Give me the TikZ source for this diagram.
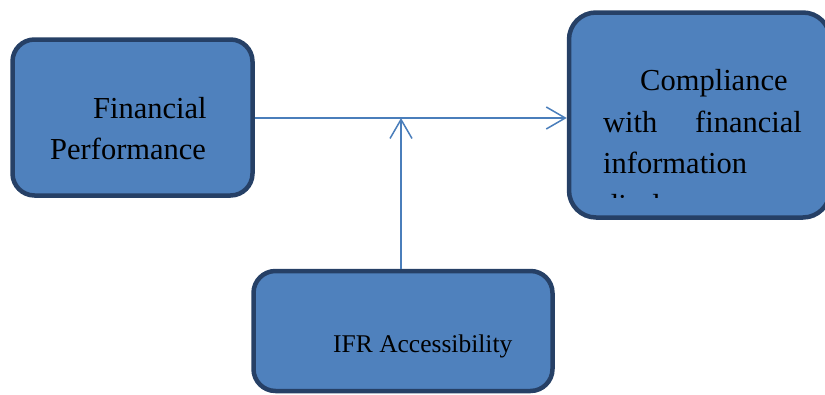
\documentclass[tikz,border=0pt]{standalone}
\usepackage{fontspec}
\setmainfont{Liberation Serif}
\usetikzlibrary{arrows.meta}
\definecolor{boxfill}{RGB}{79,129,189}
\definecolor{boxedge}{RGB}{38,64,102}
\definecolor{linkcol}{RGB}{74,126,187}
\tikzset{
  box/.style={draw=boxedge, fill=boxfill, line width=4.5pt, rounded corners=22pt, inner sep=0pt},
  link/.style={draw=linkcol, line width=1.5pt, -{Straight Barb[length=19pt,width=22pt,line width=1.5pt]}},
  bigtext/.style={anchor=base west, inner sep=0pt, font=\fontsize{30.5}{36}\selectfont},
  smalltext/.style={anchor=base west, inner sep=0pt, font=\fontsize{25.5}{30}\selectfont}
}
\begin{document}
\begin{tikzpicture}[x=1pt,y=-1pt]
\useasboundingbox (0,0) rectangle (825,394);
% boxes
\node[box, minimum width=240pt, minimum height=156pt] (perf) at (132.5,117.5) {};
\node[box, minimum width=261pt, minimum height=205pt, rounded corners=27pt] (comp) at (699.5,115) {};
\node[box, minimum width=299pt, minimum height=120pt] (ifr) at (403,331) {};
% box texts
\node[bigtext] (t1) at (93,118) {Financial};
\node[bigtext] (t2) at (50,159) {Performance};
\node[bigtext] (t3) at (640,90) {Compliance};
\node[bigtext] (t4) at (603,132) {with};
\node[bigtext, anchor=base east] (t5) at (802,132) {financial};
\node[bigtext] (t6) at (603,173) {information};
\begin{scope}
  \clip (560,150) rectangle (825,197);
  \node[bigtext] (t7) at (603,215) {disclosure};
\end{scope}
\node[smalltext] (t8) at (333,352) {IFR Accessibility};
% connectors
\coordinate (join) at (401,118);
\coordinate (ifrtop) at (401,269);
\draw[link] (perf.east |- join) -- (comp.west |- join);
\draw[link] (ifrtop) -- (join);
\end{tikzpicture}
\end{document}
